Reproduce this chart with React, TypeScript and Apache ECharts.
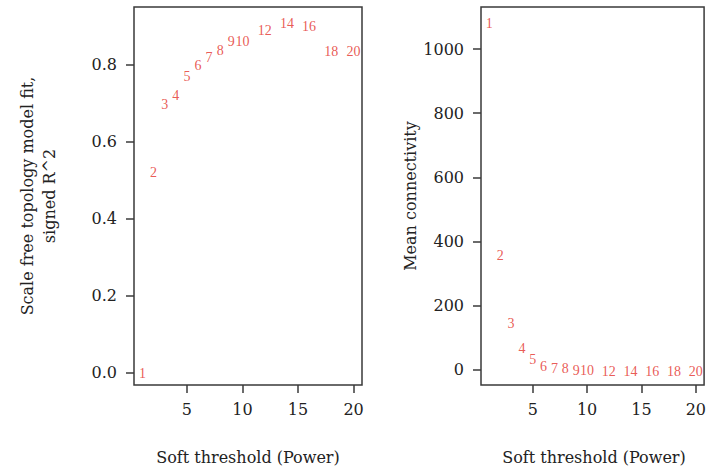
import React, { useEffect, useRef } from "react";
import * as echarts from "echarts";

const powers = [1, 2, 3, 4, 5, 6, 7, 8, 9, 10, 12, 14, 16, 18, 20];
const scaleFreeFit = [0.001, 0.524, 0.7, 0.724, 0.772, 0.8, 0.823, 0.841, 0.863, 0.863, 0.892, 0.91, 0.903, 0.838, 0.838];
const meanConnectivity = [1083, 362, 150, 72, 36, 17, 10, 8, 4, 2, 1.2, 0.8, 0.5, 0.4, 0.3];
const xTicks = [5, 10, 15, 20];
const leftYTicks = [0, 0.2, 0.4, 0.6, 0.8];
const rightYTicks = [0, 200, 400, 600, 800, 1000];

const FONT = "'DejaVu Serif', 'Liberation Serif', serif";
const LABEL_FONT = "'Liberation Serif', 'DejaVu Serif', serif";
const RED = "#e3302a";
const BOX = "#3a3a3a";

export default function App() {
  const ref = useRef<HTMLDivElement>(null);
  useEffect(() => {
    document.body.style.margin = "0";
    const chart = echarts.init(ref.current!, null, { renderer: "svg" });
    const xAxisBase = (gridIndex: number) => ({
      type: "value",
      gridIndex,
      min: 0.24,
      max: 20.76,
      splitLine: { show: false },
      axisLine: { show: false, onZero: false },
      axisTick: { show: true, length: 8, lineStyle: { color: BOX, width: 1.5 }, customValues: xTicks },
      axisLabel: { show: true, margin: 16, fontFamily: FONT, fontSize: 16, color: "#222", customValues: xTicks },
    });
    const yAxisBase = (gridIndex: number, min: number, max: number, ticks: number[], fmt: (v: number) => string) => ({
      type: "value",
      gridIndex,
      min,
      max,
      splitLine: { show: false },
      axisLine: { show: false, onZero: false },
      axisTick: { show: true, length: 8, lineStyle: { color: BOX, width: 1.5 }, customValues: ticks },
      axisLabel: { show: true, margin: 17, fontFamily: FONT, fontSize: 16, color: "#222", customValues: ticks, formatter: fmt },
    });
    const labelSeries = (xi: number, yi: number, vals: number[]) => ({
      type: "scatter",
      xAxisIndex: xi,
      yAxisIndex: yi,
      symbol: "circle",
      symbolSize: 1,
      itemStyle: { color: "rgba(0,0,0,0)" },
      label: {
        show: true,
        position: "inside",
        offset: [0, 1.5],
        formatter: (p: any) => String(p.value[0]),
        color: RED,
        fontFamily: LABEL_FONT,
        fontSize: 14,
      },
      data: powers.map((p, i) => [p, vals[i]]),
    });
    chart.setOption({
      animation: false,
      backgroundColor: "#ffffff",
      grid: [
        { left: 134, right: 347, top: 7, bottom: 87, show: true, borderColor: BOX, borderWidth: 1.5, backgroundColor: "transparent" },
        { left: 481, right: 2, top: 7, bottom: 87, show: true, borderColor: BOX, borderWidth: 1.5, backgroundColor: "transparent" },
      ],
      xAxis: [xAxisBase(0), xAxisBase(1)],
      yAxis: [
        yAxisBase(0, -0.032, 0.949, leftYTicks, (v: number) => v.toFixed(1)),
        yAxisBase(1, -46.8, 1131, rightYTicks, (v: number) => String(v)),
      ],
      series: [labelSeries(0, 0, scaleFreeFit), labelSeries(1, 1, meanConnectivity)],
      graphic: [
        {
          type: "text",
          x: 38,
          y: 196,
          rotation: Math.PI / 2,
          style: {
            text: "Scale free topology model fit,\nsigned R^2",
            fontFamily: FONT,
            fontSize: 16,
            lineHeight: 22,
            fill: "#222",
            align: "center",
            verticalAlign: "middle",
          },
        },
        {
          type: "text",
          x: 410,
          y: 196,
          rotation: Math.PI / 2,
          style: { text: "Mean connectivity", fontFamily: FONT, fontSize: 16, fill: "#222", align: "center", verticalAlign: "middle" },
        },
        {
          type: "text",
          x: 248,
          y: 457,
          style: { text: "Soft threshold (Power)", fontFamily: FONT, fontSize: 16, fill: "#222", align: "center", verticalAlign: "middle" },
        },
        {
          type: "text",
          x: 594,
          y: 457,
          style: { text: "Soft threshold (Power)", fontFamily: FONT, fontSize: 16, fill: "#222", align: "center", verticalAlign: "middle" },
        },
      ],
    });
    return () => chart.dispose();
  }, []);
  return <div ref={ref} style={{ position: "absolute", left: 0, top: 0, width: 709, height: 472 }} />;
}
